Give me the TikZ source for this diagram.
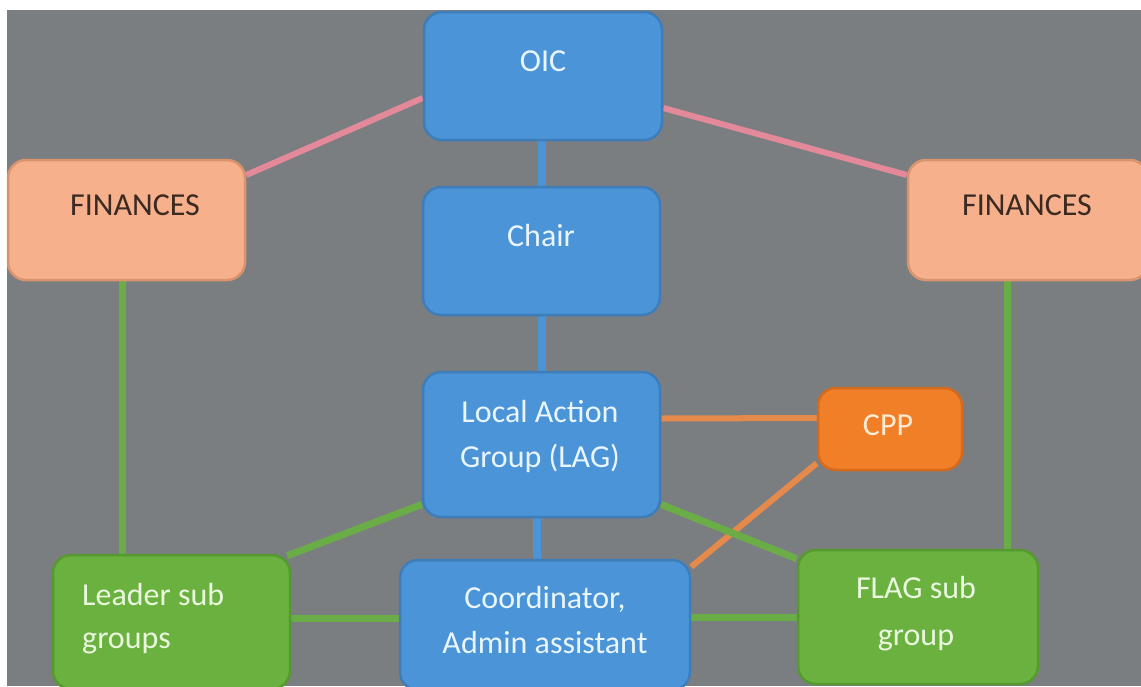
\documentclass[tikz,border=0pt]{standalone}
\usepackage{fontspec}
\setmainfont{Carlito}
\usetikzlibrary{calc}
\definecolor{bgray}{HTML}{7B7E81}
\definecolor{bluefill}{HTML}{4A94D7}
\definecolor{blueline}{HTML}{3E7DB9}
\definecolor{peachfill}{HTML}{F6B08B}
\definecolor{peachline}{HTML}{D9946E}
\definecolor{greenfill}{HTML}{6AB13F}
\definecolor{greenline}{HTML}{56992F}
\definecolor{orangefill}{HTML}{F07F27}
\definecolor{orangeline}{HTML}{D46A1D}
\definecolor{pinkcon}{HTML}{E3899A}
\definecolor{greencon}{HTML}{6AAD46}
\definecolor{bluecon}{HTML}{4A94D7}
\definecolor{orangecon}{HTML}{E68A4C}
\definecolor{lighttext}{HTML}{E9F5FF}
\definecolor{greentext}{HTML}{EAF7DF}
\definecolor{darktext}{HTML}{3A2A22}
\definecolor{cpptext}{HTML}{FDEBD5}
\pgfdeclarelayer{bg}
\pgfdeclarelayer{lines}
\pgfsetlayers{bg,lines,main}
\tikzset{
  box/.style={rectangle, rounded corners=18pt, line width=2.5pt, inner sep=0pt},
  bluebox/.style={box, fill=bluefill, draw=blueline},
  peachbox/.style={box, fill=peachfill, draw=peachline},
  greenbox/.style={box, fill=greenfill, draw=greenline},
  orangebox/.style={box, fill=orangefill, draw=orangeline},
  txt/.style={inner sep=0pt, anchor=base, font=\fontsize{32}{38}\selectfont},
  wtxt/.style={txt, text=lighttext},
  gtxt/.style={txt, text=greentext},
  dtxt/.style={txt, text=darktext},
  ctxt/.style={txt, text=cpptext},
  pinkc/.style={draw=pinkcon, line width=6pt},
  greenc/.style={draw=greencon, line width=7pt},
  bluec/.style={draw=bluecon, line width=8pt},
  orangec/.style={draw=orangecon, line width=6pt},
}
\begin{document}
\begin{tikzpicture}[x=1pt,y=-1pt]
\useasboundingbox (0,0) rectangle (1141,686);
\clip (0,0) rectangle (1141,686);
\begin{pgfonlayer}{bg}
  \fill[white] (0,0) rectangle (1141,686);
  \fill[bgray] (7,10) rectangle (1141,686);
\end{pgfonlayer}

% boxes
\node[bluebox, minimum width=238pt, minimum height=128pt] (oic) at (543,76) {};
\node[bluebox, minimum width=237pt, minimum height=128pt] (chair) at (541.5,251) {};
\node[peachbox, minimum width=237pt, minimum height=120pt] (finl) at (126.5,220) {};
\node[peachbox, minimum width=240pt, minimum height=120pt] (finr) at (1028,220) {};
\node[bluebox, minimum width=237pt, minimum height=145pt] (lag) at (541.5,444.5) {};
\node[orangebox, minimum width=144pt, minimum height=82pt] (cpp) at (890,429) {};
\node[greenbox, minimum width=237pt, minimum height=134pt] (leader) at (171.5,622) {};
\node[bluebox, minimum width=290pt, minimum height=130pt] (coord) at (545,625) {};
\node[greenbox, minimum width=240pt, minimum height=134pt] (flag) at (918,617) {};

% texts
\node[wtxt] (oict) at (543,71) {OIC};
\node[wtxt] (chairt) at (541,246) {Chair};
\node[dtxt] (finlt) at (135,215) {FINANCES};
\node[dtxt] (finrt) at (1027,215) {FINANCES};
\node[wtxt] (lagt1) at (540,422) {Local Action};
\node[wtxt] (lagt2) at (540,467) {Group (LAG)};
\node[ctxt] (cppt) at (888,435) {CPP};
\node[gtxt, anchor=base west] (leadert1) at (82,605) {Leader sub};
\node[gtxt, anchor=base west] (leadert2) at (82,648) {groups};
\node[wtxt] (coordt1) at (545,608) {Coordinator,};
\node[wtxt] (coordt2) at (545,653) {Admin assistant};
\node[gtxt] (flagt1) at (916,598) {FLAG sub};
\node[gtxt] (flagt2) at (916,645) {group};

% connector end points
\coordinate (lagbot) at ($(lag.south)+(-5,0)$);
\coordinate (finlbot) at ($(finl.south)+(-4.5,0)$);
\coordinate (finrbot) at ($(finr.south)+(-21,0)$);
\coordinate (leaderright) at ($(leader.east)+(0,-4)$);

% connectors
\begin{pgfonlayer}{lines}
  \draw[pinkc] ($(finl.east)+(0,-45)$) -- ($(oic.west)+(0,22)$);
  \draw[pinkc] ($(oic.east)+(0,32)$) -- ($(finr.west)+(0,-45)$);
  \draw[bluec] (chair.north |- oic.south) -- (chair.north);
  \draw[bluec] (chair.south) -- (lag.north);
  \draw[bluec] (lagbot) -- (lagbot |- coord.north);
  \draw[orangec] ($(lag.east)+(0,-26)$) -- ($(cpp.west)+(0,-11)$);
  \draw[orangec] ($(cpp.south west)+(0,-8)$) -- ($(coord.north east)+(0,8)$);
  \draw[greenc] ($(lag.west)+(0,60)$) -- ($(leader.north east)+(-4,2)$);
  \draw[greenc] ($(lag.east)+(0,60)$) -- ($(flag.north west)+(0,10)$);
  \draw[greenc] (finlbot) -- (finlbot |- leader.north);
  \draw[greenc] (finrbot) -- (finrbot |- flag.north);
  \draw[greenc] (leaderright) -- (leaderright -| coord.west);
  \draw[greenc] (coord.east |- flag.west) -- (flag.west);
\end{pgfonlayer}
\end{tikzpicture}
\end{document}
